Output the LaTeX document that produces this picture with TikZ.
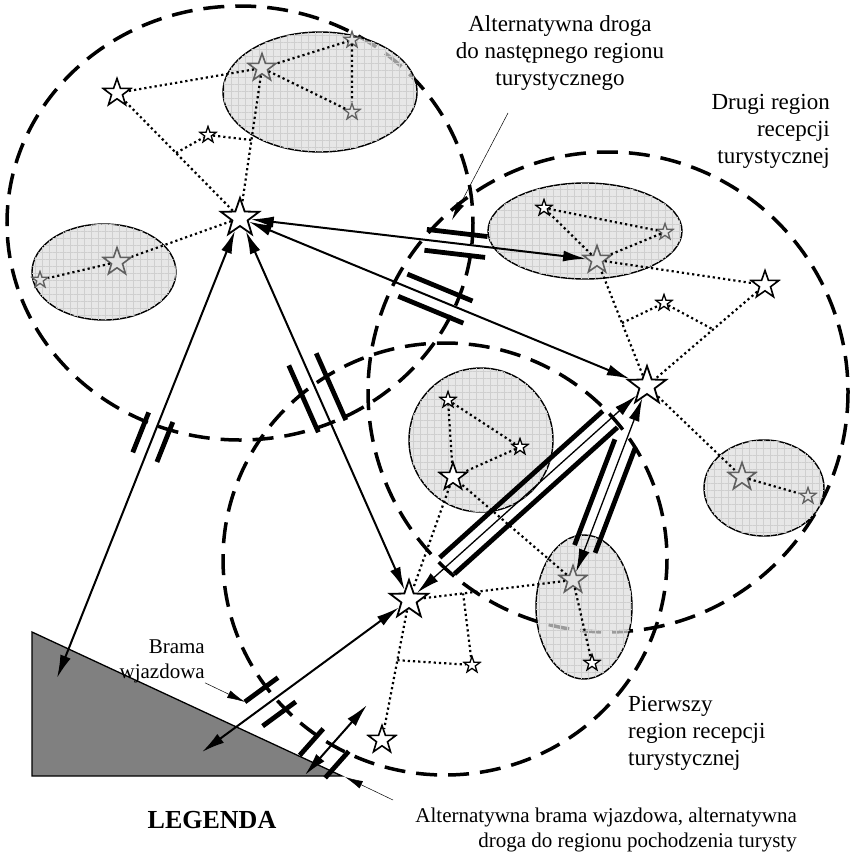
\documentclass[tikz,border=0pt]{standalone}
\usepackage{fontspec}
\setmainfont{Liberation Serif}
\usetikzlibrary{shapes.geometric, arrows.meta, calc, patterns.meta}

% gate: two bars along #1--#2 from #3 to #4, #5 off the axis
\newcommand{\bramka}[5]{%
    \draw[belka] ($(#1)!#3!(#2)!#5!90:(#2)$) -- ($(#1)!#4!(#2)!#5!90:(#2)$);
    \draw[belka] ($(#1)!#3!(#2)!#5!270:(#2)$) -- ($(#1)!#4!(#2)!#5!270:(#2)$);
}

\begin{document}
\begin{tikzpicture}[
    x=1pt, y=-1pt,
    >={Latex[length=23pt,width=11pt]},
    obszar/.style={
        line width=3.5pt,
        dash pattern=on 21pt off 11pt
    },
    obiekt/.style={
        draw,
        line width=1.4pt,
        fill=gray!27,
        fill opacity=0.7,
        postaction={pattern={Hatch[angle=0,distance=7pt,line width=0.4pt]}, pattern color=gray!38}
    },
    gwiazda/.style={
        star, star points=5, star point ratio=2.5,
        inner sep=0pt, draw, fill=white, line width=1.4pt
    },
    duza/.style={gwiazda, minimum size=40pt, line width=1.8pt},
    srednia/.style={gwiazda, minimum size=29pt, line width=1.6pt},
    mala/.style={gwiazda, minimum size=17pt, line width=1.3pt},
    szara/.style={draw=gray!75!black, fill=gray!22},
    kropki/.style={line width=2.2pt, dash pattern=on 2.2pt off 3pt},
    strz/.style={<->, line width=2pt},
    droga/.style={<->, line width=1.3pt},
    belka/.style={line width=4.8pt},
    wsk/.style={->, line width=0.5pt, >={Latex[length=18pt,width=8pt]}},
    tekst/.style={font=\fontsize{23}{27}\selectfont, inner sep=0pt},
    maly/.style={font=\fontsize{21}{25}\selectfont, inner sep=0pt}
]
    \useasboundingbox (0,0) rectangle (854,854);

    % regiony
    \draw[obszar] (240,223) ellipse [x radius=233, y radius=217];
    \draw[obszar] (608,392) ellipse [x radius=240, y radius=240];
    \draw[obszar] (445,559) ellipse [x radius=222, y radius=216];

    % region pochodzenia
    \draw[line width=1.3pt, fill=gray] (32,632) -- (32,776) -- (342,776) -- cycle;

    % atrakcje
    \draw[obiekt] (320,92) ellipse [x radius=97, y radius=60];
    \draw[obiekt] (104,272) ellipse [x radius=72, y radius=48];
    \draw[obiekt] (585,231) ellipse [x radius=97, y radius=48];
    \draw[obiekt] (481,440) circle [radius=72];
    \draw[obiekt] (584,607) ellipse [x radius=48, y radius=72];
    \draw[obiekt] (764,488) ellipse [x radius=60, y radius=48];

    % pierwszy region (gorny lewy)
    \node[duza] (h1) at (240,218) {};
    \node[srednia] (a1) at (117,93) {};
    \node[mala] (a2) at (208,135) {};
    \node[srednia, szara] (a3) at (262,68) {};
    \node[mala, szara] (a4) at (352,40) {};
    \node[mala, szara] (a5) at (352,112) {};
    \node[srednia, szara] (a6) at (117,262) {};
    \node[mala, szara] (a7) at (40,280) {};

    % drugi region
    \node[duza] (h2) at (647,386) {};
    \node[mala] (b1) at (544,208) {};
    \node[mala, szara] (b2) at (665,232) {};
    \node[srednia, szara] (b3) at (597,260) {};
    \node[srednia] (b4) at (765,285) {};
    \node[mala] (b5) at (664,303) {};
    \node[srednia, szara] (b6) at (742,477) {};
    \node[mala, szara] (b7) at (808,496) {};

    % trzeci region
    \node[duza] (h3) at (409,600) {};
    \node[mala] (c1) at (448,400) {};
    \node[mala] (c2) at (520,447) {};
    \node[srednia] (c3) at (453,477) {};
    \node[srednia, szara] (c4) at (573,580) {};
    \node[mala] (c5) at (592,663) {};
    \node[mala] (c6) at (472,665) {};
    \node[srednia] (c7) at (382,740) {};

    \coordinate (j1) at ($(a1)!0.48!(h1)$);
    \coordinate (j2) at ($(h1)!0.52!(a3)$);
    \coordinate (j3) at ($(b3)!0.5!(h2)$);
    \coordinate (j4) at ($(b4)!0.44!(h2)$);
    \coordinate (j5) at ($(h3)!0.43!(c7)$);
    \coordinate (j6) at ($(h3)!0.33!(c4)$);

    \coordinate (k1) at (57,678);
    \coordinate (k2) at (202,752);
    \coordinate (k3) at (305,775);
    \coordinate (k4) at (367,705);

    % sciezki
    \draw[kropki] (a1) -- (a3) -- (a4) -- (a5) -- (a3) -- (h1) -- (a1);
    \draw[kropki] (j1) -- (a2) -- (j2);
    \draw[kropki] (h1) -- (a6) -- (a7);
    \draw[kropki] (b1) -- (b2) -- (b3) -- (b1);
    \draw[kropki] (b3) -- (b4) -- (h2) -- (b3);
    \draw[kropki] (j3) -- (b5) -- (j4);
    \draw[kropki] (h2) -- (b6) -- (b7);
    \draw[kropki] (c1) -- (c2) -- (c3) -- (c1);
    \draw[kropki] (c3) -- (h3) -- (c4) -- (c3);
    \draw[kropki] (c4) -- (c5);
    \draw[kropki] (h3) -- (c7);
    \draw[kropki] (j5) -- (c6) -- (j6);

    % polaczenia
    \draw[strz] (k1) -- (h1);
    \draw[strz] (h1) -- (h3);
    \draw[strz] (h1) -- (b3);
    \draw[strz] (h1) -- (h2);
    \draw[strz] (h3) -- (k2);
    \draw[strz] (k3) -- (k4);
    \draw[droga] (h3) -- (h2);
    \draw[droga] (h2) -- (c4);

    % bramy
    \bramka{k1}{h1}{0.48}{0.567}{13pt}
    \bramka{h1}{h3}{0.37}{0.545}{15pt}
    \bramka{h1}{b3}{0.52}{0.69}{10.5pt}
    \bramka{h1}{h2}{0.40}{0.56}{12pt}
    \bramka{h3}{h2}{0.16}{0.845}{11pt}
    \bramka{h2}{c4}{0.295}{0.84}{11pt}
    \bramka{h3}{k2}{0.59}{0.75}{15pt}
    \bramka{k3}{k4}{0.12}{0.5}{17pt}

    % opisy
    \node[tekst, align=center] (opis1) at (560,53)
        {Alternatywna droga\\do następnego regionu\\turystycznego};
    \node[tekst, align=right, anchor=east] (opis2) at (830,131)
        {Drugi region\\recepcji\\turystycznej};
    \node[tekst, align=left, anchor=west] (opis3) at (628,733)
        {Pierwszy\\region recepcji\\turystycznej};
    \node[maly, align=right, anchor=east] (brama) at (205,661)
        {Brama\\wjazdowa};
    \node[font=\fontsize{26}{30}\selectfont\bfseries, inner sep=0pt] (leg) at (212,820)
        {LEGENDA};
    \node[maly, align=right, anchor=east] (opis5) at (797,830)
        {Alternatywna brama wjazdowa, alternatywna\\droga do regionu pochodzenia turysty};

    \coordinate (w1) at (508,113);
    \coordinate (p1) at (452,220);
    \coordinate (p2) at (245,702);
    \coordinate (w3) at (393,800);
    \coordinate (p3) at (345,777);
    \draw[wsk] (w1) -- (p1);
    \draw[wsk] (brama.south east) -- (p2);
    \draw[wsk] (w3) -- (p3);

\end{tikzpicture}
\end{document}
